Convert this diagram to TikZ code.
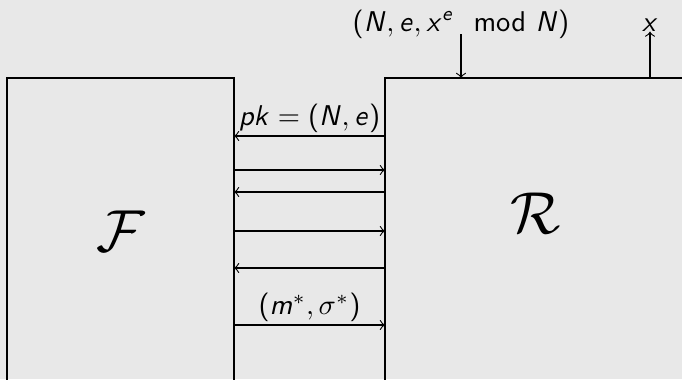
\documentclass[tikz,border=0pt]{standalone}
\usepackage{amsmath}
\DeclareSymbolFont{operators}{OT1}{cmss}{m}{n}
\DeclareSymbolFont{sfletters}{OT1}{cmss}{m}{sl}
\newcount\mylettcnt
\mylettcnt=`a
\loop
  \mathcode\mylettcnt=\numexpr "7000+\symsfletters*256+\mylettcnt\relax
  \advance\mylettcnt by 1
\ifnum\mylettcnt<\numexpr`z+1\relax\repeat
\mylettcnt=`A
\loop
  \mathcode\mylettcnt=\numexpr "7000+\symsfletters*256+\mylettcnt\relax
  \advance\mylettcnt by 1
\ifnum\mylettcnt<\numexpr`Z+1\relax\repeat
\definecolor{bg}{RGB}{232,232,232}
\begin{document}
\begin{tikzpicture}[x=0.35pt,y=-0.35pt,
  party/.style={draw, line width=0.5pt, anchor=north west, inner sep=0pt, outer sep=0pt},
  msg/.style={line width=0.4pt},
  lbl/.style={inner sep=1pt}]
\fill[bg] (0,0) rectangle (682,379);
\useasboundingbox (0,0) rectangle (682,379);
\clip (0,0) rectangle (682,379);
\node[party, minimum width=227*0.35pt, minimum height=360*0.35pt] (F) at (7,78) {};
\node[party, minimum width=360*0.35pt, minimum height=360*0.35pt] (R) at (385,78) {};
\node[font=\huge] (Fl) at (121,231) {$\mathcal{F}$};
\node[font=\huge] (Rl) at (536,213) {$\mathcal{R}$};
% top labels
\node[anchor=base, inner sep=0pt] (inp) at (461,31) {$(N,e,x^e \mod N)$};
\node[anchor=base, inner sep=0pt] (out) at (650,31) {$x$};
\coordinate (tin) at (461,78);
\coordinate (tout) at (650,78);
\draw[->, msg, shorten <=-1.5pt] (inp.south) -- (tin);
\draw[->, msg] (tout) -- (out.south);
% messages
\foreach \n/\y in {a/136,b/170,c/192,d/231,e/268,f/325}{\coordinate (y\n) at (0,\y);}
\draw[<-, msg] (F.east |- ya) -- (R.west |- ya) node[midway, above, lbl] (pk) {$pk = (N,e)$};
\draw[->, msg] (F.east |- yb) -- (R.west |- yb);
\draw[<-, msg] (F.east |- yc) -- (R.west |- yc);
\draw[->, msg] (F.east |- yd) -- (R.west |- yd);
\draw[<-, msg] (F.east |- ye) -- (R.west |- ye);
\draw[->, msg] (F.east |- yf) -- (R.west |- yf) node[midway, above, lbl] (ms) {$(m^*,\sigma^*)$};
\end{tikzpicture}
\end{document}
